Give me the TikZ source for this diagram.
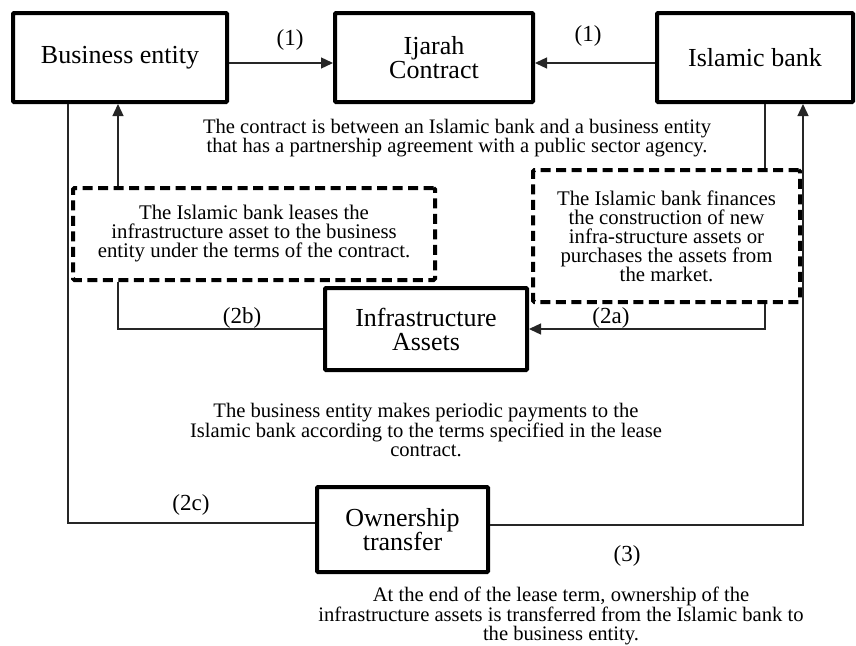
\documentclass[tikz,border=0pt]{standalone}
\usepackage{fontspec}
\setmainfont{Liberation Serif}
\usetikzlibrary{arrows.meta}
\begin{document}
\begin{tikzpicture}[x=1pt,y=-1pt,
  mainbox/.style={draw=black,line width=4pt,rounded corners=1pt,align=center,inner sep=0pt,
    font=\fontsize{26}{24}\selectfont},
  dashbox/.style={draw=black,line width=4pt,dash pattern=on 10pt off 5.5pt,rounded corners=1.5pt,
    align=center,inner sep=0pt,font=\fontsize{20.8}{19}\selectfont},
  conn/.style={draw=black!85,line width=1.3pt},
  arr/.style={conn,-{Triangle[length=12pt,width=11pt]}},
  lbl/.style={font=\fontsize{23}{23}\selectfont,inner sep=0pt},
  note/.style={align=center,inner sep=0pt,font=\fontsize{20.6}{19.5}\selectfont}]
\useasboundingbox (0,0) rectangle (856,645);
\fill[white] (0,0) rectangle (856,645);
% boxes
\node[mainbox,minimum width=214pt,minimum height=89pt] (BE) at (120,57.5) {Business entity};
\node[mainbox,minimum width=198pt,minimum height=89pt] (IJ) at (434,57.5) {Ijarah\\Contract};
\node[mainbox,minimum width=196pt,minimum height=89pt] (IB) at (755,57.5) {Islamic bank};
\node[mainbox,minimum width=202pt,minimum height=82pt] (INF) at (426,329) {Infrastructure\\Assets};
\node[mainbox,minimum width=171pt,minimum height=85pt] (OW) at (402.5,529.5) {Ownership\\transfer};
\node[dashbox,minimum width=362pt,minimum height=92pt] (LD) at (254,234)
  {The Islamic bank leases the\\infrastructure asset to the business\\entity under the terms of the contract.};
\node[dashbox,minimum width=267pt,minimum height=132pt] (RD) at (666.5,236)
  {The Islamic bank finances\\the construction of new\\infra-structure assets or\\purchases the assets from\\the market.};
% notes
\node[note] (T1) at (457,138) {The contract is between an Islamic bank and a business entity\\that has a partnership agreement with a public sector agency.};
\node[note] (T2) at (426,430) {The business entity makes periodic payments to the\\Islamic bank according to the terms specified in the lease\\contract.};
\node[note] (T3) at (561,616) {At the end of the lease term, ownership of the\\infrastructure assets is transferred from the Islamic bank to\\the business entity.};
% labels
\node[lbl] (L1a) at (290,40) {(1)};
\node[lbl] (L1b) at (588,36) {(1)};
\node[lbl] (L2a) at (611,318) {(2a)};
\node[lbl] (L2b) at (242,318) {(2b)};
\node[lbl] (L2c) at (191,505) {(2c)};
\node[lbl] (L3) at (627,556) {(3)};
% connectors
\draw[arr] ([yshift=-5.5pt]BE.east) -- ([yshift=-5.5pt]IJ.west);
\draw[arr] ([yshift=-5.5pt]IB.west) -- ([yshift=-5.5pt]IJ.east);
\draw[conn] ([xshift=10pt]IB.south) -- ([xshift=10pt]IB.south |- RD.north);
\draw[arr] ([xshift=98.5pt]RD.south) |- (INF.east);
\draw[conn] (INF.west) -| ([xshift=-136pt]LD.south);
\draw[arr] ([xshift=-136pt]LD.north) -- ([xshift=-136pt]LD.north |- BE.south);
\draw[conn] ([xshift=-52pt]BE.south) |- ([yshift=6.5pt]OW.west);
\draw[arr] ([yshift=4.5pt]OW.east) -| ([xshift=48pt]IB.south);
\end{tikzpicture}
\end{document}
